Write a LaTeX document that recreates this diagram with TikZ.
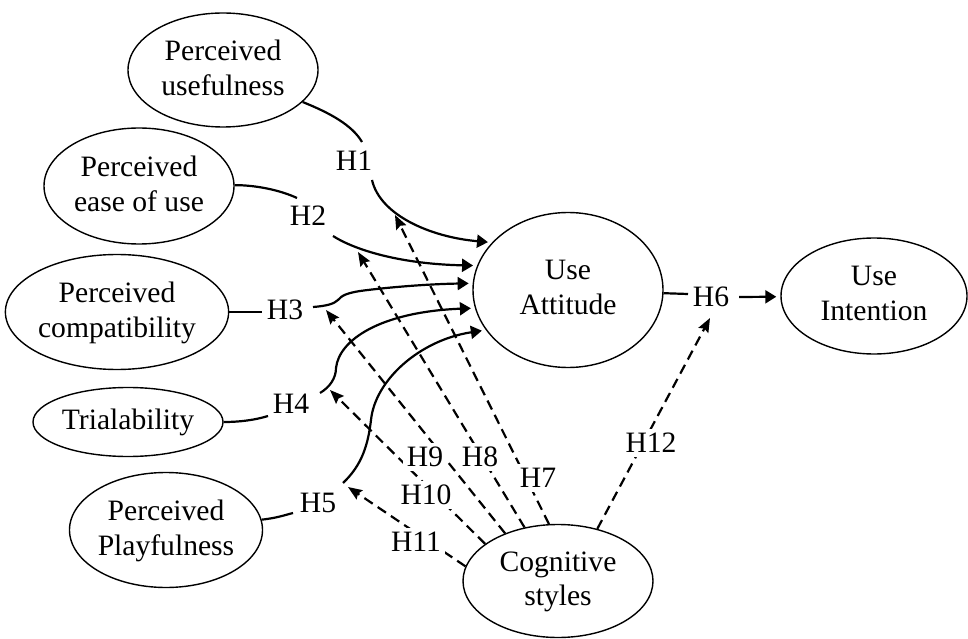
\documentclass[tikz,border=0pt]{standalone}
\usepackage{fontspec}
\setmainfont{Liberation Serif}
\usetikzlibrary{shapes.geometric,arrows.meta,calc}
\begin{document}
\begin{tikzpicture}[x=0.5pt,y=0.5pt,
  every node/.style={font=\fontsize{14.8}{17.3}\selectfont},
  construct/.style={ellipse,draw,line width=0.7pt,inner sep=0pt,align=center,text depth=0.25em},
  hyp/.style={fill=white,inner sep=2pt},
  link/.style={line width=1.1pt},
  effect/.style={link,-{Triangle[length=5.5pt,width=6.5pt]},shorten >=2pt},
  moderate/.style={line width=1.1pt,dash pattern=on 5pt off 3pt,-{Stealth[length=7pt,width=5.5pt,inset=1pt]}}
]
\useasboundingbox (0,0) rectangle (968,638);

% constructs (sizes in pt: one unit of the grid is 0.5pt)
\node[construct,minimum width=95pt,minimum height=57pt]   (pu) at (223,568) {Perceived\\usefulness};
\node[construct,minimum width=95pt,minimum height=58pt]   (pe) at (139,452) {Perceived\\ease of use};
\node[construct,minimum width=111pt,minimum height=57.5pt] (pc) at (117,326) {Perceived\\compatibility};
\node[construct,minimum width=95pt,minimum height=34.5pt] (tr) at (128,216) {Trialability};
\node[construct,minimum width=95pt,minimum height=57.5pt] (pp) at (166,108) {Perceived\\Playfulness};
\node[construct,minimum width=95pt,minimum height=77.5pt] (ua) at (568,348) {Use\\Attitude};
\node[construct,minimum width=93pt,minimum height=58pt]   (ui) at (874,342) {Use\\Intention};
\node[construct,minimum width=95pt,minimum height=56.5pt] (cs) at (558,57) {Cognitive\\styles};

% free ends of the moderating arrows
\coordinate (tA) at (395,423);
\coordinate (tB) at (358,386);
\coordinate (tC) at (326,328);
\coordinate (tD) at (330,248);
\coordinate (tE) at (348,151);
\coordinate (tF) at (710,320);

% moderating effects of cognitive styles
\draw[moderate] (cs.99.8)  -- (tA);
\draw[moderate] (cs.122.5) -- (tB);
\draw[moderate] (cs.138)   -- (tC);
\draw[moderate] (cs.153)   -- (tD);
\draw[moderate] (cs.171)   -- (tE);
\draw[moderate] (cs.53.5)  -- (tF);

% hypothesis labels
\node[hyp] (h1)  at (354,477) {H1};
\node[hyp] (h2)  at (308,422) {H2};
\node[hyp] (h3)  at (285,328) {H3};
\node[hyp] (h4)  at (291,234) {H4};
\node[hyp] (h5)  at (318,135) {H5};
\node[hyp] (h6)  at (711,341) {H6};
\node[hyp] (h7)  at (538,160) {H7};
\node[hyp] (h8)  at (480,181) {H8};
\node[hyp] (h9)  at (425,181) {H9};
\node[hyp] (h10) at (426,143) {H10};
\node[hyp] (h11) at (416,96)  {H11};
\node[hyp] (h12) at (651,195) {H12};

% H1
\draw[link] (pu) .. controls (330,525) and (352,513) .. ($(h1)+(8,19)$);
\draw[effect] ($(h1)+(18,-19)$) .. controls (380,423) and (430,401) .. (ua.148);
% H2
\draw[link] (pe) .. controls (255,453) and (280,448) .. ($(h2)+(-11,18)$);
\draw[effect] ($(h2)+(25,-20)$) .. controls (355,388) and (400,374) .. (ua.165.4);
% H3
\draw[link] (pc) -- ($(h3)+(-23,-2)$);
\draw[effect] ($(h3)+(28,3)$) .. controls (326,332) and (334,334) .. (338,338)
  .. controls (342,343) and (348,345) .. (360,347)
  .. controls (390,351) and (430,354) .. (ua.176.5);
% H4
\draw[link] (tr) .. controls (240,216) and (255,218) .. ($(h4)+(-23,-12)$);
\draw[effect] ($(h4)+(29,11)$) .. controls (330,251) and (336,260) .. (336,270)
  .. controls (339,298) and (380,326) .. (ua.191.8);
% H5
\draw[link] (pp) .. controls (277,120) and (285,123) .. ($(h5)+(-25,-10)$);
\draw[effect] ($(h5)+(25,20)$) .. controls (362,173) and (368,193) .. (371,218)
  .. controls (375,258) and (420,298) .. (ua.206.8);
% H6
\draw[link] (ua) -- ($(h6)+(-23,3)$);
\draw[effect] ($(h6)+(28,0)$) -- (ui);
\end{tikzpicture}
\end{document}
